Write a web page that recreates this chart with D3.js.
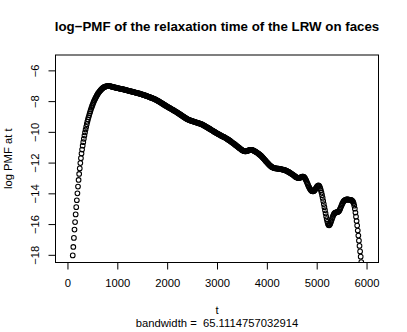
<!DOCTYPE html>
<html><head><meta charset="utf-8">
<script src="https://cdn.jsdelivr.net/npm/d3@7"></script>
<style>
body{margin:0;background:#fff}
svg{display:block}
text{font-family:"Liberation Sans",Arial,Helvetica,sans-serif;fill:#000}
</style>
</head><body><svg id="c" width="407" height="332"></svg>
<script>
const title = "log\u2212PMF of the relaxation time of the LRW on faces";
const xLabel = "t";
const yLabel = "log PMF at t";
const subLabel = "bandwidth =  65.1114757032914";
const xTicks = [0, 1000, 2000, 3000, 4000, 5000, 6000];
const yTicks = [-18, -16, -14, -12, -10, -8, -6];
const xLim = [0, 6000];
const yLim = [-18, -5.5];
// density evaluation grid: 512 points from 0 to 6000; first visible index
const gridN = 512, gridFrom = 0, gridTo = 6000, firstIndex = 9;
// log PMF values, one per grid point starting at firstIndex
const logPmf = [
-18.04,-17.49,-16.90,-16.36,-15.87,-15.37,-14.90,-14.45,-14.00,-13.56,
-13.13,-12.74,-12.38,-12.03,-11.71,-11.41,-11.15,-10.90,-10.67,-10.45,
-10.24,-10.04,-9.85,-9.67,-9.50,-9.34,-9.19,-9.05,-8.92,-8.79,
-8.67,-8.55,-8.44,-8.33,-8.23,-8.13,-8.04,-7.95,-7.87,-7.79,
-7.72,-7.65,-7.58,-7.52,-7.46,-7.41,-7.36,-7.31,-7.27,-7.23,
-7.19,-7.16,-7.13,-7.10,-7.08,-7.06,-7.05,-7.04,-7.03,-7.02,
-7.02,-7.02,-7.02,-7.03,-7.03,-7.04,-7.05,-7.06,-7.07,-7.08,
-7.09,-7.10,-7.11,-7.12,-7.13,-7.14,-7.15,-7.16,-7.17,-7.17,
-7.18,-7.19,-7.20,-7.21,-7.21,-7.22,-7.23,-7.24,-7.25,-7.26,
-7.27,-7.28,-7.29,-7.30,-7.31,-7.32,-7.33,-7.34,-7.35,-7.36,
-7.37,-7.38,-7.39,-7.40,-7.41,-7.42,-7.43,-7.44,-7.45,-7.46,
-7.47,-7.48,-7.49,-7.50,-7.51,-7.52,-7.54,-7.55,-7.56,-7.57,
-7.58,-7.60,-7.61,-7.62,-7.63,-7.65,-7.66,-7.67,-7.69,-7.70,
-7.72,-7.73,-7.75,-7.76,-7.78,-7.79,-7.80,-7.82,-7.84,-7.85,
-7.87,-7.89,-7.91,-7.93,-7.95,-7.97,-7.99,-8.01,-8.04,-8.06,
-8.09,-8.11,-8.13,-8.15,-8.18,-8.20,-8.23,-8.25,-8.28,-8.30,
-8.32,-8.35,-8.37,-8.39,-8.41,-8.44,-8.46,-8.48,-8.50,-8.52,
-8.55,-8.57,-8.59,-8.61,-8.64,-8.66,-8.68,-8.70,-8.73,-8.75,
-8.78,-8.80,-8.83,-8.85,-8.88,-8.90,-8.93,-8.96,-8.98,-9.01,
-9.03,-9.06,-9.08,-9.11,-9.13,-9.16,-9.18,-9.20,-9.21,-9.23,
-9.24,-9.26,-9.27,-9.29,-9.30,-9.31,-9.32,-9.34,-9.35,-9.36,
-9.37,-9.38,-9.40,-9.41,-9.42,-9.43,-9.45,-9.46,-9.47,-9.49,
-9.50,-9.52,-9.54,-9.56,-9.58,-9.60,-9.62,-9.65,-9.67,-9.69,
-9.71,-9.74,-9.76,-9.78,-9.81,-9.83,-9.85,-9.88,-9.90,-9.92,
-9.95,-9.97,-9.99,-10.02,-10.04,-10.06,-10.09,-10.11,-10.13,-10.15,
-10.17,-10.19,-10.21,-10.23,-10.26,-10.28,-10.30,-10.31,-10.33,-10.35,
-10.37,-10.39,-10.42,-10.44,-10.46,-10.49,-10.51,-10.54,-10.56,-10.59,
-10.62,-10.65,-10.68,-10.71,-10.73,-10.76,-10.79,-10.82,-10.85,-10.88,
-10.91,-10.94,-10.97,-11.00,-11.03,-11.06,-11.09,-11.12,-11.15,-11.18,
-11.20,-11.22,-11.24,-11.26,-11.27,-11.27,-11.27,-11.26,-11.25,-11.23,
-11.21,-11.20,-11.18,-11.17,-11.17,-11.17,-11.17,-11.18,-11.20,-11.22,
-11.24,-11.26,-11.28,-11.31,-11.33,-11.35,-11.38,-11.41,-11.44,-11.47,
-11.50,-11.53,-11.57,-11.61,-11.65,-11.69,-11.73,-11.77,-11.82,-11.86,
-11.91,-11.95,-11.99,-12.03,-12.07,-12.11,-12.15,-12.19,-12.22,-12.25,
-12.28,-12.30,-12.32,-12.34,-12.35,-12.36,-12.37,-12.38,-12.38,-12.39,
-12.39,-12.40,-12.40,-12.41,-12.41,-12.42,-12.43,-12.44,-12.45,-12.45,
-12.46,-12.47,-12.48,-12.50,-12.52,-12.53,-12.55,-12.57,-12.59,-12.61,
-12.64,-12.66,-12.68,-12.71,-12.73,-12.76,-12.78,-12.81,-12.84,-12.87,
-12.90,-12.93,-12.95,-12.97,-12.99,-13.00,-13.00,-13.00,-12.99,-12.97,
-12.95,-12.93,-12.92,-12.91,-12.91,-12.93,-12.97,-13.03,-13.10,-13.18,
-13.27,-13.36,-13.45,-13.54,-13.62,-13.69,-13.75,-13.80,-13.84,-13.86,
-13.87,-13.87,-13.85,-13.81,-13.76,-13.70,-13.64,-13.58,-13.53,-13.50,
-13.49,-13.51,-13.58,-13.68,-13.80,-13.95,-14.12,-14.30,-14.50,-14.70,
-14.90,-15.10,-15.30,-15.50,-15.68,-15.85,-15.98,-16.06,-16.08,-16.05,
-15.98,-15.88,-15.77,-15.66,-15.55,-15.45,-15.37,-15.31,-15.27,-15.25,
-15.24,-15.23,-15.22,-15.21,-15.19,-15.15,-15.08,-15.00,-14.91,-14.81,
-14.72,-14.64,-14.57,-14.51,-14.47,-14.44,-14.42,-14.41,-14.40,-14.40,
-14.40,-14.41,-14.41,-14.42,-14.42,-14.43,-14.44,-14.46,-14.50,-14.56,
-14.65,-14.80,-15.00,-15.25,-15.52,-15.80,-16.10,-16.42,-16.75,-17.08,
-17.42,-17.78,-18.12,-18.48
];

const W = 407, H = 332;
const box = {left: 55.5, right: 378.5, top: 55, bottom: 262.5};
const lineH = 13.5, fs = 11.25;

const ext = (lim) => { const d = (lim[1]-lim[0])*0.04; return [lim[0]-d, lim[1]+d]; };
const x = d3.scaleLinear().domain(ext(xLim)).range([box.left, box.right]);
const y = d3.scaleLinear().domain(ext(yLim)).range([box.bottom, box.top]);

const step = (gridTo - gridFrom) / (gridN - 1);
const data = logPmf.map((v, k) => ({t: gridFrom + (firstIndex + k) * step, v}));

const svg = d3.select("#c");
svg.append("rect").attr("width", W).attr("height", H).attr("fill", "#fff");

svg.append("defs").append("clipPath").attr("id", "plotclip")
  .append("rect").attr("x", box.left).attr("y", box.top)
  .attr("width", box.right - box.left).attr("height", box.bottom - box.top);

svg.append("g").attr("clip-path", "url(#plotclip)")
  .selectAll("circle").data(data).join("circle")
  .attr("cx", d => x(d.t)).attr("cy", d => y(d.v))
  .attr("r", 2.35).attr("fill", "none").attr("stroke", "#000").attr("stroke-width", 1.05);

// box
svg.append("rect").attr("x", box.left).attr("y", box.top)
  .attr("width", box.right - box.left).attr("height", box.bottom - box.top)
  .attr("fill", "none").attr("stroke", "#000").attr("stroke-width", 1);

// x axis
const gx = svg.append("g").attr("transform", `translate(0,${box.bottom})`)
  .call(d3.axisBottom(x).tickValues(xTicks).tickSize(7).tickSizeOuter(0).tickFormat(d3.format("d")));
gx.select(".domain").remove();
gx.append("line").attr("x1", x(xTicks[0])).attr("x2", x(xTicks[xTicks.length-1]))
  .attr("stroke", "#000");
gx.selectAll(".tick line").attr("stroke", "#000");
gx.selectAll(".tick text").attr("y", 1.8*lineH).attr("dy", 0)
  .style("font-size", fs + "px").style("font-family", '"Liberation Sans",Arial,sans-serif').attr("fill", "#000");

// y axis
const gy = svg.append("g").attr("transform", `translate(${box.left},0)`)
  .call(d3.axisLeft(y).tickValues(yTicks).tickSize(7).tickSizeOuter(0)
    .tickFormat(d => d3.format("d")(d).replace("-", "\u2212")));
gy.select(".domain").remove();
gy.selectAll(".tick line").attr("stroke", "#000");
gy.selectAll(".tick text")
  .attr("x", 0).attr("y", 0).attr("dy", 0)
  .attr("text-anchor", "middle")
  .attr("transform", `translate(${-1.2*lineH},0) rotate(-90)`)
  .style("font-size", fs + "px").style("font-family", '"Liberation Sans",Arial,sans-serif').attr("fill", "#000");

const cx = (box.left + box.right) / 2;
svg.append("text").attr("x", cx).attr("y", 31).attr("text-anchor", "middle")
  .style("font-size", "13.3px").style("font-weight", "bold").text(title);
svg.append("text").attr("x", cx).attr("y", box.bottom + 3.8*lineH).attr("text-anchor", "middle")
  .style("font-size", fs + "px").text(xLabel);
svg.append("text").attr("x", cx).attr("y", box.bottom + 4.8*lineH).attr("text-anchor", "middle")
  .style("font-size", fs + "px").style("white-space", "pre").text(subLabel);
svg.append("text")
  .attr("transform", `translate(${box.left - 3.2*lineH},${(box.top + box.bottom)/2}) rotate(-90)`)
  .attr("text-anchor", "middle").style("font-size", fs + "px").text(yLabel);
</script>
</body></html>
